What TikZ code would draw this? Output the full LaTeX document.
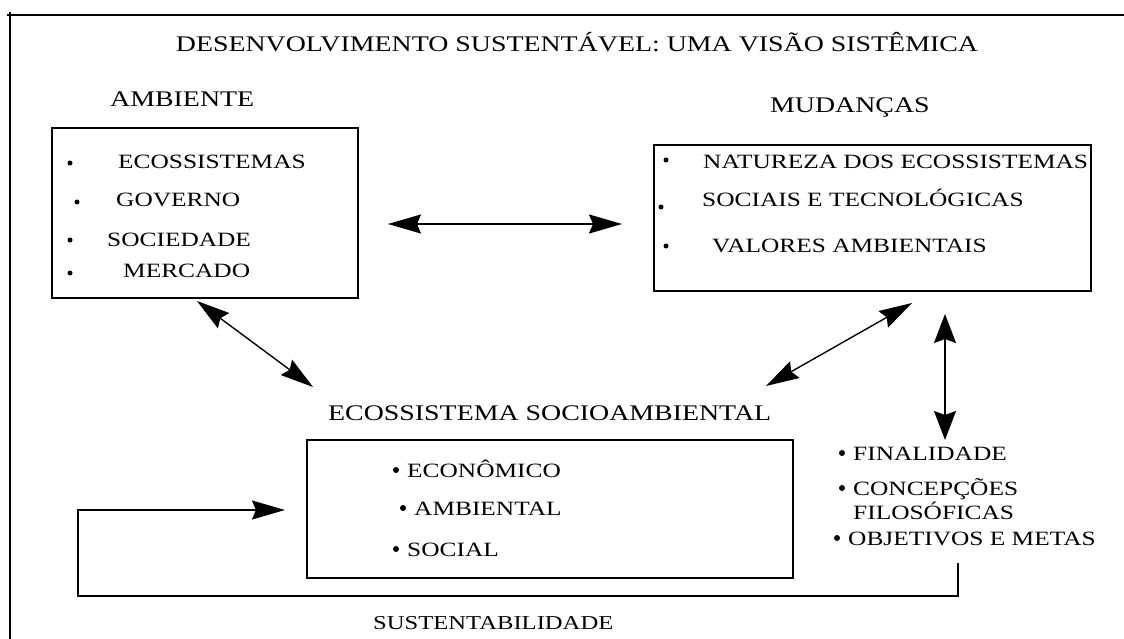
\documentclass[tikz,border=0pt]{standalone}
\usepackage{fontspec}
\setmainfont{Liberation Serif}[FakeStretch=1.25]
\usetikzlibrary{arrows.meta}
\tikzset{
  box/.style={draw, line width=1.8pt, inner sep=0pt},
  head/.style={font=\fontsize{22.3}{25}\selectfont, inner sep=0pt, anchor=base west},
  item/.style={font=\fontsize{20.3}{23}\selectfont, inner sep=0pt, anchor=base west},
  dot/.style={circle, fill, draw=none, inner sep=0pt, minimum size=5pt},
  bigdot/.style={dot, minimum size=6pt},
  bigtip/.tip={Stealth[length=33pt,width=19pt,inset=4pt]},
  widetip/.tip={Stealth[length=29pt,width=22pt,inset=4pt]},
  conn/.style={line width=1.4pt, arrows={bigtip-bigtip}},
  vconn/.style={line width=1.4pt, arrows={widetip-widetip}},
  loopline/.style={line width=1.6pt},
  frame/.style={line width=1.8pt},
}
\begin{document}
\begin{tikzpicture}[x=1pt,y=-1pt]
\useasboundingbox (0,0) rectangle (1124,639);
% frame
\coordinate (fTL) at (7,15);
\coordinate (fTR) at (1124,15);
\coordinate (fLT) at (10,12);
\coordinate (fLB) at (10,639);
\draw[frame] (fTL) -- (fTR);
\draw[frame] (fLT) -- (fLB);

% title and headings
\node[head, anchor=base] (title) at (577,52) {DESENVOLVIMENTO SUSTENTÁVEL: UMA VISÃO SISTÊMICA};
\node[head] (hamb) at (110,107) {AMBIENTE};
\node[head] (hmud) at (770,113) {MUDANÇAS};
\node[head] (heco) at (328,420) {ECOSSISTEMA SOCIOAMBIENTAL};
\node[item, font=\fontsize{19.7}{22}\selectfont] (hsus) at (373,629) {SUSTENTABILIDADE};

% boxes
\node[box, minimum width=306pt, minimum height=170pt] (amb) at (205,213) {};
\node[box, minimum width=437pt, minimum height=146pt] (mud) at (872.5,218) {};
\node[box, minimum width=486pt, minimum height=138pt] (eco) at (550,509) {};

% AMBIENTE items
\node[dot] (ab1) at (70,163) {};
\node[item] (a1) at (118,169) {ECOSSISTEMAS};
\node[dot] (ab2) at (77,202) {};
\node[item] (a2) at (116,207) {GOVERNO};
\node[dot] (ab3) at (70,240) {};
\node[item] (a3) at (107,246) {SOCIEDADE};
\node[dot] (ab4) at (70,273) {};
\node[item] (a4) at (123,277) {MERCADO};

% MUDANCAS items
\node[dot] (mb1) at (666,160) {};
\node[item] (m1) at (703,169) {NATUREZA DOS ECOSSISTEMAS};
\node[dot] (mb2) at (661,207) {};
\node[item] (m2) at (702,207) {SOCIAIS E TECNOLÓGICAS};
\node[dot] (mb3) at (666,246) {};
\node[item] (m3) at (712,252) {VALORES AMBIENTAIS};

% ECO items
\node[bigdot] (eb1) at (396,470) {};
\node[item] (e1) at (407,477) {ECONÔMICO};
\node[bigdot] (eb2) at (403,508) {};
\node[item] (e2) at (414,515) {AMBIENTAL};
\node[bigdot] (eb3) at (396,549) {};
\node[item] (e3) at (407,556) {SOCIAL};

% right list
\node[bigdot] (rb1) at (842,453) {};
\node[item] (r1) at (853,460) {FINALIDADE};
\node[bigdot] (rb2) at (842,488) {};
\node[item] (r2) at (853,495) {CONCEPÇÕES};
\node[item] (r2b) at (853,519) {FILOSÓFICAS};
\node[bigdot] (rb3) at (837,538) {};
\node[item] (r3) at (848,545) {OBJETIVOS E METAS};

% connectors
\coordinate (hL) at (388,224);
\coordinate (hR) at (622,224);
\draw[conn] (hL) -- (hR);
\coordinate (d1a) at (197,301);
\coordinate (d1b) at (313,387);
\draw[conn] (d1a) -- (d1b);
\coordinate (d2a) at (912,303);
\coordinate (d2b) at (766,386);
\draw[conn] (d2a) -- (d2b);
\coordinate (vA) at (945,314);
\coordinate (vB) at (945,440);
\draw[vconn] (vA) -- (vB);

% feedback loop
\coordinate (lS) at (958,563);
\coordinate (lE) at (285,510);
\draw[loopline, arrows={-bigtip}] (lS) -- (958,596) -- (78,596) -- (78,510) -- (lE);
\end{tikzpicture}
\end{document}
